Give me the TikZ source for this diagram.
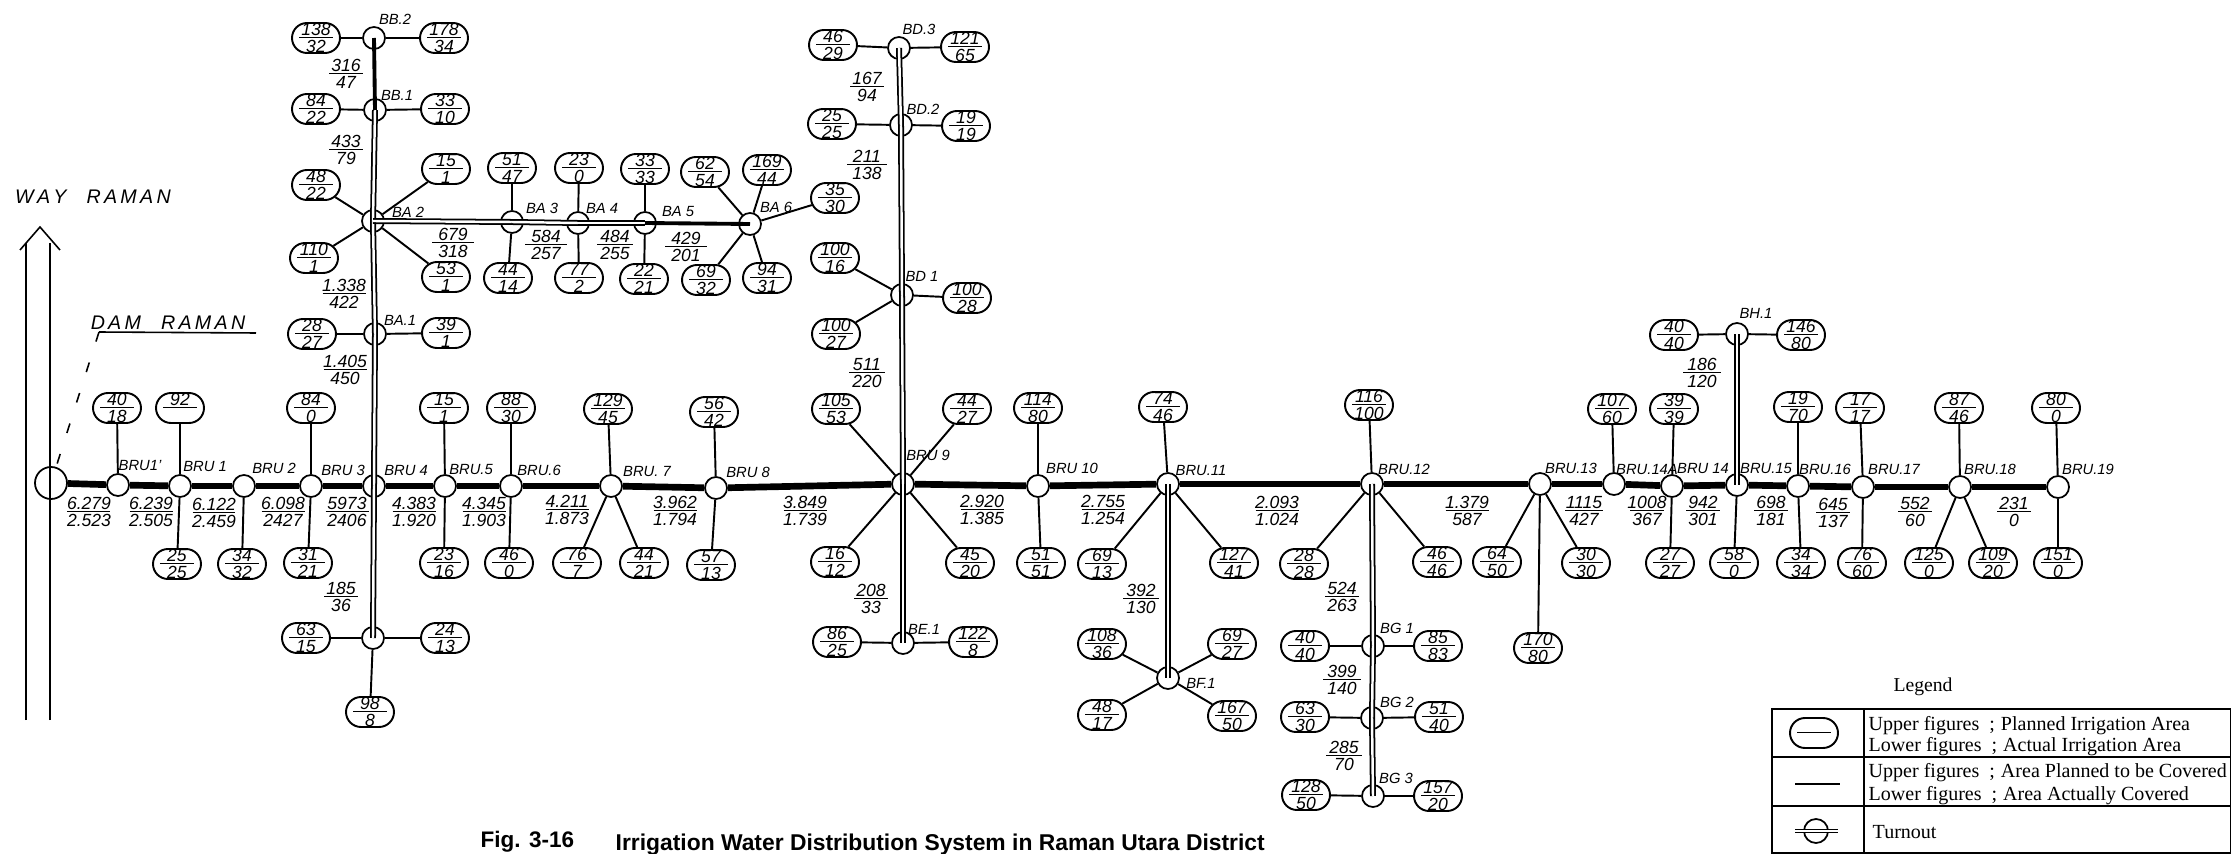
\documentclass[tikz,border=0pt]{standalone}
\usepackage{fontspec}
\setmainfont{Liberation Sans}
\newfontfamily\legendfont{Liberation Serif}
\usetikzlibrary{
    shapes.misc,
    arrows.meta,
    positioning
}
\newcommand{\ratio}[3][3.4mm]{\vbox to 0pt{\offinterlineskip\vss\hbox to #1{\hss\vphantom{0}#2\hss}\kern .35pt\hrule height .4pt\kern .55pt\hbox to #1{\hss\vphantom{0}#3\hss}\vss}}
\begin{document}
\begin{tikzpicture}[
    x=0.1mm,
    y=-0.1mm,
    junction/.style={circle, draw, fill=white, line width=.5pt, minimum size=2.2mm, inner sep=0pt},
    area/.style={rounded rectangle, draw, fill=white, line width=.55pt, minimum height=3mm, inner ysep=0pt, inner xsep=.7mm, font=\fontsize{5}{5}\selectfont\itshape},
    seglabel/.style={inner sep=0pt, font=\fontsize{5}{5}\selectfont\itshape},
    tag/.style={inner sep=0pt, font=\fontsize{4.2}{5}\selectfont\itshape},
    hand/.style={inner sep=0pt, font=\fontsize{5.6}{6}\selectfont\itshape},
    legtext/.style={inner sep=0pt, anchor=west, font=\fontsize{5.7}{6}\selectfont\legendfont},
    trunk/.style={line width=1.9pt},
    branch/.style={line width=.55pt},
    canal/.style={double, line width=.5pt, double distance=.7pt},
    feeder/.style={line width=1.1pt},
    thinline/.style={line width=.45pt}
]
    \useasboundingbox (0,0) rectangle (2231,854);

    \node[junction, minimum size=3.2mm] (dam) at (51,483) {};
    \node[junction] (bru1a) at (118,485) {};
    \node[junction] (bru1) at (180,486) {};
    \node[junction] (bru2) at (244,486) {};
    \node[junction] (bru3) at (311,486) {};
    \node[junction] (bru4) at (374,486) {};
    \node[junction] (bru5) at (445,486) {};
    \node[junction] (bru6) at (511,486) {};
    \node[junction] (bru7) at (611,486) {};
    \node[junction] (bru8) at (716,488) {};
    \node[junction] (bru9) at (903,484) {};
    \node[junction] (bru10) at (1038,486) {};
    \node[junction] (bru11) at (1168,484) {};
    \node[junction] (bru12) at (1372,484) {};
    \node[junction] (bru13) at (1540,484) {};
    \node[junction] (bru14a) at (1614,484) {};
    \node[junction] (bru14) at (1672,486) {};
    \node[junction] (bru15) at (1737,485) {};
    \node[junction] (bru16) at (1798,486) {};
    \node[junction] (bru17) at (1863,487) {};
    \node[junction] (bru18) at (1960,487) {};
    \node[junction] (bru19) at (2058,487) {};

    \node[junction] (bb2) at (374,38) {};
    \node[junction] (bb1) at (375,110) {};
    \node[junction] (ba2) at (373,221) {};
    \node[junction] (ba1) at (375,334) {};
    \node[junction] (bc1) at (373,638) {};
    \node[junction] (ba3) at (512,222) {};
    \node[junction] (ba4) at (578,223) {};
    \node[junction] (ba5) at (645,223) {};
    \node[junction] (ba6) at (750,224) {};
    \node[junction] (bd3) at (899,48) {};
    \node[junction] (bd2) at (901,125) {};
    \node[junction] (bd1) at (902,295) {};
    \node[junction] (be1) at (903,643) {};
    \node[junction] (bf1) at (1168,678) {};
    \node[junction] (bg1) at (1373,646) {};
    \node[junction] (bg2) at (1372,718) {};
    \node[junction] (bg3) at (1373,796) {};
    \node[junction] (bh1) at (1737,334) {};

    \node[tag] (bru1at) at (140,465) {BRU1'};
    \node[tag] (bru1t) at (205,466) {BRU 1};
    \node[tag] (bru2t) at (274,468) {BRU 2};
    \node[tag] (bru3t) at (343,470) {BRU 3};
    \node[tag] (bru4t) at (406,470) {BRU 4};
    \node[tag] (bru5t) at (471,469) {BRU.5};
    \node[tag] (bru6t) at (539,470) {BRU.6};
    \node[tag] (bru7t) at (647,471) {BRU. 7};
    \node[tag] (bru8t) at (748,472) {BRU 8};
    \node[tag] (bru9t) at (928,455) {BRU 9};
    \node[tag] (bru10t) at (1072,468) {BRU 10};
    \node[tag] (bru11t) at (1201,470) {BRU.11};
    \node[tag] (bru12t) at (1404,469) {BRU.12};
    \node[tag] (bru13t) at (1571,468) {BRU.13};
    \node[tag] (bru14at) at (1647,469) {BRU.14A};
    \node[tag] (bru14t) at (1703,468) {BRU 14};
    \node[tag] (bru15t) at (1766,468) {BRU.15};
    \node[tag] (bru16t) at (1825,469) {BRU.16};
    \node[tag] (bru17t) at (1894,469) {BRU.17};
    \node[tag] (bru18t) at (1990,469) {BRU.18};
    \node[tag] (bru19t) at (2088,469) {BRU.19};
    \node[tag] (bb2t) at (395,19) {BB.2};
    \node[tag] (bb1t) at (397,95) {BB.1};
    \node[tag] (ba2t) at (408,212) {BA 2};
    \node[tag] (ba1t) at (400,320) {BA.1};
    \node[tag] (ba3t) at (542,208) {BA 3};
    \node[tag] (ba4t) at (602,208) {BA 4};
    \node[tag] (ba5t) at (678,211) {BA 5};
    \node[tag] (ba6t) at (776,207) {BA 6};
    \node[tag] (bd3t) at (919,29) {BD.3};
    \node[tag] (bd2t) at (923,109) {BD.2};
    \node[tag] (bd1t) at (922,276) {BD 1};
    \node[tag] (be1t) at (924,629) {BE.1};
    \node[tag] (bf1t) at (1201,683) {BF.1};
    \node[tag] (bg1t) at (1397,628) {BG 1};
    \node[tag] (bg2t) at (1397,702) {BG 2};
    \node[tag] (bg3t) at (1396,778) {BG 3};
    \node[tag] (bh1t) at (1756,313) {BH.1};

    \node[area] (bru1au) at (117,408) {\ratio{40}{18}};
    \node[area] (bru1u) at (180,408) {\ratio{92}{}};
    \node[area] (bru1d) at (177,564) {\ratio{25}{25}};
    \node[area] (bru2d) at (242,564) {\ratio{34}{32}};
    \node[area] (bru3u) at (311,408) {\ratio{84}{0}};
    \node[area] (bru3d) at (308,563) {\ratio{31}{21}};
    \node[area] (bru5u) at (444,408) {\ratio{15}{1}};
    \node[area] (bru5d) at (444,563) {\ratio{23}{16}};
    \node[area] (bru6u) at (511,408) {\ratio{88}{30}};
    \node[area] (bru6d) at (509,563) {\ratio{46}{0}};
    \node[area] (bru7u) at (608,409) {\ratio{129}{45}};
    \node[area] (bru7dl) at (577,563) {\ratio{76}{7}};
    \node[area] (bru7dr) at (644,563) {\ratio{44}{21}};
    \node[area] (bru8u) at (714,412) {\ratio{56}{42}};
    \node[area] (bru8d) at (711,565) {\ratio{57}{13}};
    \node[area] (bru9ul) at (836,409) {\ratio{105}{53}};
    \node[area] (bru9ur) at (967,409) {\ratio{44}{27}};
    \node[area] (bru9dl) at (835,562) {\ratio{16}{12}};
    \node[area] (bru9dr) at (970,563) {\ratio{45}{20}};
    \node[area] (bru10u) at (1038,408) {\ratio{114}{80}};
    \node[area] (bru10d) at (1041,563) {\ratio{51}{51}};
    \node[area] (bru11u) at (1163,407) {\ratio{74}{46}};
    \node[area] (bru11dl) at (1102,564) {\ratio{69}{13}};
    \node[area] (bru11dr) at (1234,563) {\ratio{127}{41}};
    \node[area] (bru12u) at (1369,405) {\ratio{116}{100}};
    \node[area] (bru12dl) at (1304,564) {\ratio{28}{28}};
    \node[area] (bru12dr) at (1437,562) {\ratio{46}{46}};
    \node[area] (bru13dl) at (1497,562) {\ratio{64}{50}};
    \node[area] (bru13dm) at (1538,648) {\ratio{170}{80}};
    \node[area] (bru13dr) at (1586,563) {\ratio{30}{30}};
    \node[area] (bru14au) at (1612,409) {\ratio{107}{60}};
    \node[area] (bru14u) at (1674,409) {\ratio{39}{39}};
    \node[area] (bru14d) at (1670,563) {\ratio{27}{27}};
    \node[area] (bru15d) at (1734,563) {\ratio{58}{0}};
    \node[area] (bru16u) at (1798,407) {\ratio{19}{70}};
    \node[area] (bru16d) at (1801,563) {\ratio{34}{34}};
    \node[area] (bru17u) at (1860,408) {\ratio{17}{17}};
    \node[area] (bru17d) at (1862,563) {\ratio{76}{60}};
    \node[area] (bru18u) at (1959,408) {\ratio{87}{46}};
    \node[area] (bru18dl) at (1929,563) {\ratio{125}{0}};
    \node[area] (bru18dr) at (1993,563) {\ratio{109}{20}};
    \node[area] (bru19u) at (2056,408) {\ratio{80}{0}};
    \node[area] (bru19d) at (2058,563) {\ratio{151}{0}};
    \node[area] (bb2l) at (316,38) {\ratio{138}{32}};
    \node[area] (bb2r) at (444,38) {\ratio{178}{34}};
    \node[area] (bb1l) at (316,109) {\ratio{84}{22}};
    \node[area] (bb1r) at (445,109) {\ratio{33}{10}};
    \node[area] (ba2ul) at (316,185) {\ratio{48}{22}};
    \node[area] (ba2dl) at (314,258) {\ratio{110}{1}};
    \node[area] (ba2ur) at (446,169) {\ratio{15}{1}};
    \node[area] (ba2dr) at (446,277) {\ratio{53}{1}};
    \node[area] (ba1l) at (312,334) {\ratio{28}{27}};
    \node[area] (ba1r) at (446,333) {\ratio{39}{1}};
    \node[area] (ba3u) at (512,168) {\ratio{51}{47}};
    \node[area] (ba3d) at (508,278) {\ratio{44}{14}};
    \node[area] (ba4u) at (579,168) {\ratio{23}{0}};
    \node[area] (ba4d) at (579,278) {\ratio{77}{2}};
    \node[area] (ba5u) at (645,169) {\ratio{33}{33}};
    \node[area] (ba5d) at (644,279) {\ratio{22}{21}};
    \node[area] (ba6ul) at (705,172) {\ratio{62}{54}};
    \node[area] (ba6um) at (767,170) {\ratio{169}{44}};
    \node[area] (ba6ur) at (835,198) {\ratio{35}{30}};
    \node[area] (ba6dl) at (706,280) {\ratio{69}{32}};
    \node[area] (ba6dr) at (767,278) {\ratio{94}{31}};
    \node[area] (bc1l) at (306,638) {\ratio{63}{15}};
    \node[area] (bc1r) at (445,638) {\ratio{24}{13}};
    \node[area] (bc1d) at (370,712) {\ratio{98}{8}};
    \node[area] (bd3l) at (833,45) {\ratio{46}{29}};
    \node[area] (bd3r) at (965,47) {\ratio{121}{65}};
    \node[area] (bd2l) at (832,124) {\ratio{25}{25}};
    \node[area] (bd2r) at (966,126) {\ratio{19}{19}};
    \node[area] (bd1ul) at (835,258) {\ratio{100}{16}};
    \node[area] (bd1dl) at (836,334) {\ratio{100}{27}};
    \node[area] (bd1r) at (967,298) {\ratio{100}{28}};
    \node[area] (be1l) at (837,642) {\ratio{86}{25}};
    \node[area] (be1r) at (973,642) {\ratio{122}{8}};
    \node[area] (bf1ul) at (1102,644) {\ratio{108}{36}};
    \node[area] (bf1ur) at (1232,644) {\ratio{69}{27}};
    \node[area] (bf1dl) at (1102,715) {\ratio{48}{17}};
    \node[area] (bf1dr) at (1232,716) {\ratio{167}{50}};
    \node[area] (bg1l) at (1305,646) {\ratio{40}{40}};
    \node[area] (bg1r) at (1438,646) {\ratio{85}{83}};
    \node[area] (bg2l) at (1305,717) {\ratio{63}{30}};
    \node[area] (bg2r) at (1439,717) {\ratio{51}{40}};
    \node[area] (bg3l) at (1306,795) {\ratio{128}{50}};
    \node[area] (bg3r) at (1438,796) {\ratio{157}{20}};
    \node[area] (bh1l) at (1674,335) {\ratio{40}{40}};
    \node[area] (bh1r) at (1801,335) {\ratio{146}{80}};

    \node[seglabel] (s1) at (89,512) {\ratio[4.3mm]{6.279}{2.523}};
    \node[seglabel] (s2) at (151,512) {\ratio[4.3mm]{6.239}{2.505}};
    \node[seglabel] (s3) at (214,513) {\ratio[4.3mm]{6.122}{2.459}};
    \node[seglabel] (s4) at (283,512) {\ratio[4.3mm]{6.098}{2427}};
    \node[seglabel] (s5) at (347,512) {\ratio[4.3mm]{5973}{2406}};
    \node[seglabel] (s6) at (414,512) {\ratio[4.3mm]{4.383}{1.920}};
    \node[seglabel] (s7) at (484,512) {\ratio[4.3mm]{4.345}{1.903}};
    \node[seglabel] (s8) at (567,510) {\ratio[4.3mm]{4.211}{1.873}};
    \node[seglabel] (s9) at (675,511) {\ratio[4.3mm]{3.962}{1.794}};
    \node[seglabel] (s10) at (805,511) {\ratio[4.3mm]{3.849}{1.739}};
    \node[seglabel] (s11) at (982,510) {\ratio[4.3mm]{2.920}{1.385}};
    \node[seglabel] (s12) at (1103,510) {\ratio[4.3mm]{2.755}{1.254}};
    \node[seglabel] (s13) at (1277,511) {\ratio[4.3mm]{2.093}{1.024}};
    \node[seglabel] (s14) at (1467,511) {\ratio[4.3mm]{1.379}{587}};
    \node[seglabel] (s15) at (1584,511) {\ratio[3.8mm]{1115}{427}};
    \node[seglabel] (s16) at (1647,511) {\ratio[3.4mm]{1008}{367}};
    \node[seglabel] (s17) at (1703,511) {\ratio[3.4mm]{942}{301}};
    \node[seglabel] (s18) at (1771,511) {\ratio[3.4mm]{698}{181}};
    \node[seglabel] (s19) at (1833,513) {\ratio[3.4mm]{645}{137}};
    \node[seglabel] (s20) at (1915,512) {\ratio[3.4mm]{552}{60}};
    \node[seglabel] (s21) at (2014,512) {\ratio[3.4mm]{231}{0}};
    \node[seglabel] (sbb) at (346,74) {\ratio[3.4mm]{316}{47}};
    \node[seglabel] (sba1) at (346,150) {\ratio[3.4mm]{433}{79}};
    \node[seglabel] (sba2) at (344,294) {\ratio[4.3mm]{1.338}{422}};
    \node[seglabel] (sba3) at (345,370) {\ratio[4.3mm]{1.405}{450}};
    \node[seglabel] (sbc) at (341,597) {\ratio[3.4mm]{185}{36}};
    \node[seglabel] (sba4) at (453,243) {\ratio[4.2mm]{679}{318}};
    \node[seglabel] (sba5) at (546,245) {\ratio[4.2mm]{584}{257}};
    \node[seglabel] (sba6) at (615,245) {\ratio[3.6mm]{484}{255}};
    \node[seglabel] (sba7) at (686,247) {\ratio[4.2mm]{429}{201}};
    \node[seglabel] (sbd3) at (867,87) {\ratio[3.4mm]{167}{94}};
    \node[seglabel] (sbd2) at (867,165) {\ratio[4mm]{211}{138}};
    \node[seglabel] (sbd1) at (867,373) {\ratio[3.6mm]{511}{220}};
    \node[seglabel] (sbe) at (871,599) {\ratio[3.4mm]{208}{33}};
    \node[seglabel] (sbf) at (1141,599) {\ratio[3.6mm]{392}{130}};
    \node[seglabel] (sbg1) at (1342,597) {\ratio[3.4mm]{524}{263}};
    \node[seglabel] (sbg2) at (1342,680) {\ratio[3.8mm]{399}{140}};
    \node[seglabel] (sbg3) at (1344,756) {\ratio[3.6mm]{285}{70}};
    \node[seglabel] (sbh) at (1702,373) {\ratio[3.8mm]{186}{120}};

    \draw[trunk] (dam) -- (bru1a);
    \draw[trunk] (bru1a) -- (bru1);
    \draw[trunk] (bru1) -- (bru2);
    \draw[trunk] (bru2) -- (bru3);
    \draw[trunk] (bru3) -- (bru4);
    \draw[trunk] (bru4) -- (bru5);
    \draw[trunk] (bru5) -- (bru6);
    \draw[trunk] (bru6) -- (bru7);
    \draw[trunk] (bru7) -- (bru8);
    \draw[trunk] (bru8) -- (bru9);
    \draw[trunk] (bru9) -- (bru10);
    \draw[trunk] (bru10) -- (bru11);
    \draw[trunk] (bru11) -- (bru12);
    \draw[trunk] (bru12) -- (bru13);
    \draw[trunk] (bru13) -- (bru14a);
    \draw[trunk] (bru14a) -- (bru14);
    \draw[trunk] (bru14) -- (bru15);
    \draw[trunk] (bru15) -- (bru16);
    \draw[trunk] (bru16) -- (bru17);
    \draw[trunk] (bru17) -- (bru18);
    \draw[trunk] (bru18) -- (bru19);

    \draw[canal] (bru4.center) -- (ba1.center);
    \draw[canal] (ba1.center) -- (ba2.center);
    \draw[canal] (ba2.center) -- (bb1.center);
    \draw[feeder] (bb1.center) -- (bb2.center);
    \draw[canal] (bru4.center) -- (bc1.center);
    \draw[canal] (ba2.center) -- (ba3.center);
    \draw[canal] (ba3.center) -- (ba4.center);
    \draw[canal] (ba4.center) -- (ba5.center);
    \draw[feeder] (ba5.center) -- (ba6.center);
    \draw[canal] (bru9.center) -- (bd1.center);
    \draw[canal] (bd1.center) -- (bd2.center);
    \draw[canal] (bd2.center) -- (bd3.center);
    \draw[canal] (bru9.center) -- (be1.center);
    \draw[canal] (bru11.center) -- (bf1.center);
    \draw[canal] (bru12.center) -- (bg1.center);
    \draw[canal] (bg1.center) -- (bg2.center);
    \draw[canal] (bg2.center) -- (bg3.center);
    \draw[canal] (bru15.center) -- (bh1.center);

    \draw[branch] (bru1a) -- (bru1au);
    \draw[branch] (bru1) -- (bru1u);
    \draw[branch] (bru1) -- (bru1d);
    \draw[branch] (bru2) -- (bru2d);
    \draw[branch] (bru3) -- (bru3u);
    \draw[branch] (bru3) -- (bru3d);
    \draw[branch] (bru5) -- (bru5u);
    \draw[branch] (bru5) -- (bru5d);
    \draw[branch] (bru6) -- (bru6u);
    \draw[branch] (bru6) -- (bru6d);
    \draw[branch] (bru7) -- (bru7u);
    \draw[branch] (bru7) -- (bru7dl);
    \draw[branch] (bru7) -- (bru7dr);
    \draw[branch] (bru8) -- (bru8u);
    \draw[branch] (bru8) -- (bru8d);
    \draw[branch] (bru9) -- (bru9ul);
    \draw[branch] (bru9) -- (bru9ur);
    \draw[branch] (bru9) -- (bru9dl);
    \draw[branch] (bru9) -- (bru9dr);
    \draw[branch] (bru10) -- (bru10u);
    \draw[branch] (bru10) -- (bru10d);
    \draw[branch] (bru11) -- (bru11u);
    \draw[branch] (bru11) -- (bru11dl);
    \draw[branch] (bru11) -- (bru11dr);
    \draw[branch] (bru12) -- (bru12u);
    \draw[branch] (bru12) -- (bru12dl);
    \draw[branch] (bru12) -- (bru12dr);
    \draw[branch] (bru13) -- (bru13dl);
    \draw[branch] (bru13) -- (bru13dm);
    \draw[branch] (bru13) -- (bru13dr);
    \draw[branch] (bru14a) -- (bru14au);
    \draw[branch] (bru14) -- (bru14u);
    \draw[branch] (bru14) -- (bru14d);
    \draw[branch] (bru15) -- (bru15d);
    \draw[branch] (bru16) -- (bru16u);
    \draw[branch] (bru16) -- (bru16d);
    \draw[branch] (bru17) -- (bru17u);
    \draw[branch] (bru17) -- (bru17d);
    \draw[branch] (bru18) -- (bru18u);
    \draw[branch] (bru18) -- (bru18dl);
    \draw[branch] (bru18) -- (bru18dr);
    \draw[branch] (bru19) -- (bru19u);
    \draw[branch] (bru19) -- (bru19d);
    \draw[branch] (bb2) -- (bb2l);
    \draw[branch] (bb2) -- (bb2r);
    \draw[branch] (bb1) -- (bb1l);
    \draw[branch] (bb1) -- (bb1r);
    \draw[branch] (ba2) -- (ba2ul);
    \draw[branch] (ba2) -- (ba2dl);
    \draw[branch] (ba2) -- (ba2ur);
    \draw[branch] (ba2) -- (ba2dr);
    \draw[branch] (ba1) -- (ba1l);
    \draw[branch] (ba1) -- (ba1r);
    \draw[branch] (ba3) -- (ba3u);
    \draw[branch] (ba3) -- (ba3d);
    \draw[branch] (ba4) -- (ba4u);
    \draw[branch] (ba4) -- (ba4d);
    \draw[branch] (ba5) -- (ba5u);
    \draw[branch] (ba5) -- (ba5d);
    \draw[branch] (ba6) -- (ba6ul);
    \draw[branch] (ba6) -- (ba6um);
    \draw[branch] (ba6) -- (ba6ur);
    \draw[branch] (ba6) -- (ba6dl);
    \draw[branch] (ba6) -- (ba6dr);
    \draw[branch] (bc1) -- (bc1l);
    \draw[branch] (bc1) -- (bc1r);
    \draw[branch] (bc1) -- (bc1d);
    \draw[branch] (bd3) -- (bd3l);
    \draw[branch] (bd3) -- (bd3r);
    \draw[branch] (bd2) -- (bd2l);
    \draw[branch] (bd2) -- (bd2r);
    \draw[branch] (bd1) -- (bd1ul);
    \draw[branch] (bd1) -- (bd1dl);
    \draw[branch] (bd1) -- (bd1r);
    \draw[branch] (be1) -- (be1l);
    \draw[branch] (be1) -- (be1r);
    \draw[branch] (bf1) -- (bf1ul);
    \draw[branch] (bf1) -- (bf1ur);
    \draw[branch] (bf1) -- (bf1dl);
    \draw[branch] (bf1) -- (bf1dr);
    \draw[branch] (bg1) -- (bg1l);
    \draw[branch] (bg1) -- (bg1r);
    \draw[branch] (bg2) -- (bg2l);
    \draw[branch] (bg2) -- (bg2r);
    \draw[branch] (bg3) -- (bg3l);
    \draw[branch] (bg3) -- (bg3r);
    \draw[branch] (bh1) -- (bh1l);
    \draw[branch] (bh1) -- (bh1r);

    \node[hand] (way) at (93,197) {W\,A\,Y\hspace{2mm}R\,A\,M\,A\,N};
    \coordinate (wayl) at (26,720);
    \coordinate (waylw) at (26,243);
    \coordinate (wayr) at (50,720);
    \coordinate (wayrw) at (50,243);
    \coordinate (waya) at (20,250);
    \coordinate (wayb) at (40,227);
    \coordinate (wayc) at (60,250);
    \draw[thinline] (wayl) -- (waylw);
    \draw[thinline] (wayr) -- (wayrw);
    \draw[thinline] (waya) -- (wayb) -- (wayc);

    \node[hand] (damname) at (168,323) {D\,A\,M\hspace{2mm}R\,A\,M\,A\,N};
    \coordinate (damend) at (256,333);
    \coordinate (damcorner) at (99,332);
    \draw[thinline] (damend) -- (damcorner);
    \draw[thinline, dash pattern=on 1mm off 2.2mm] (damcorner) -- (dam);

    \node[inner sep=0pt, font=\fontsize{5.6}{6}\selectfont\legendfont] (legtitle) at (1923,687) {Legend};
    \coordinate (legnw) at (1772,709);
    \coordinate (legse) at (2231,853);
    \coordinate (legcola) at (1864,709);
    \coordinate (legcolb) at (1864,853);
    \coordinate (legrowa) at (1772,757);
    \coordinate (legrowb) at (2231,757);
    \coordinate (legrowc) at (1772,806);
    \coordinate (legrowd) at (2231,806);
    \draw[branch] (legnw) rectangle (legse);
    \draw[branch] (legcola) -- (legcolb);
    \draw[branch] (legrowa) -- (legrowb);
    \draw[branch] (legrowc) -- (legrowd);
    \node[area] (legpill) at (1814,733) {\ratio{}{}};
    \coordinate (leglinea) at (1795,784);
    \coordinate (leglineb) at (1840,784);
    \draw[thinline] (leglinea) -- (leglineb);
    \node[junction, minimum size=2.4mm] (legturn) at (1816,831) {};
    \coordinate (legturna) at (1795,831);
    \coordinate (legturnb) at (1838,831);
    \draw[double, line width=.4pt, double distance=.6pt] (legturna) -- (legturnb);
    \node[legtext] (legu1) at (1868,726) {Upper figures\hspace{1mm};\hspace{.6mm}Planned Irrigation Area};
    \node[legtext] (legl1) at (1868,747) {Lower figures\hspace{1mm};\hspace{.6mm}Actual Irrigation Area};
    \node[legtext] (legu2) at (1868,773) {Upper figures\hspace{1mm};\hspace{.6mm}Area Planned to be Covered};
    \node[legtext] (legl2) at (1868,796) {Lower figures\hspace{1mm};\hspace{.6mm}Area Actually Covered};
    \node[legtext] (legturnt) at (1872,832) {Turnout};

    \node[inner sep=0pt, anchor=west, font=\fontsize{6.4}{7}\selectfont\bfseries] (figno) at (480,842) {Fig. 3-16};
    \node[inner sep=0pt, anchor=west, font=\fontsize{6.5}{7}\selectfont\bfseries] (figtitle) at (615,845) {Irrigation Water Distribution System in Raman Utara District};
\end{tikzpicture}
\end{document}
